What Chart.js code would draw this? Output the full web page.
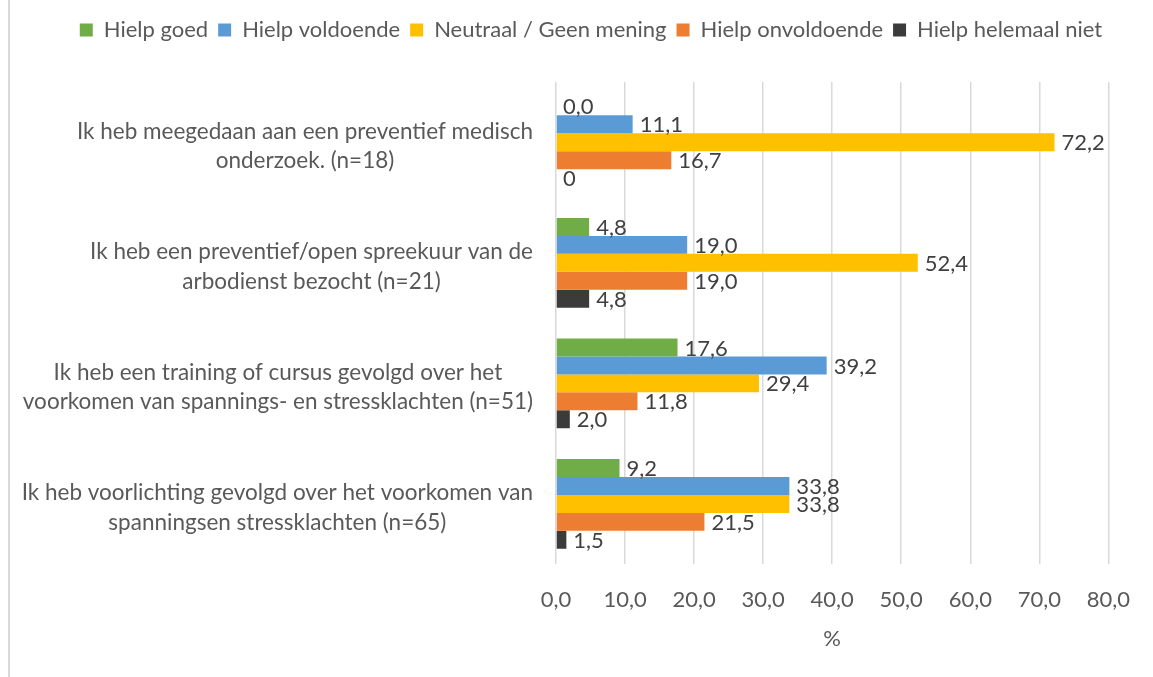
<!DOCTYPE html>
<html>
<head>
<meta charset="utf-8">
<script src="https://cdn.jsdelivr.net/npm/chart.js@4"></script>
<style>
    html, body { margin: 0; padding: 0; background: #fff; }
    #wrap { position: relative; width: 1153px; height: 677px; }
    #wrap::before { content: ''; position: absolute; left: 8px; top: 0; bottom: 0; border-left: 2px solid #d9d9d9; }
    canvas { display: block; }
</style>
</head>
<body>
<div id="wrap"><canvas id="chart" width="1153" height="677"></canvas></div>
<script>
const categorieen = [
    ['Ik heb meegedaan aan een preventief medisch', 'onderzoek. (n=18)'],
    ['Ik heb een preventief/open spreekuur van de', 'arbodienst bezocht (n=21)'],
    ['Ik heb een training of cursus gevolgd over het', 'voorkomen van spannings- en stressklachten (n=51)'],
    ['Ik heb voorlichting gevolgd over het voorkomen van', 'spanningsen stressklachten (n=65)']
];
const reeksNamen = ['Hielp goed', 'Hielp voldoende', 'Neutraal / Geen mening', 'Hielp onvoldoende', 'Hielp helemaal niet'];
const hielpGoed = [0.0, 4.8, 17.6, 9.2];
const hielpVoldoende = [11.1, 19.0, 39.2, 33.8];
const neutraal = [72.2, 52.4, 29.4, 33.8];
const hielpOnvoldoende = [16.7, 19.0, 11.8, 21.5];
const hielpNiet = [0, 4.8, 2.0, 1.5];
// Excel toonde bij de eerste groep "0" in plaats van "0,0"
const labelsNiet = ['0', '4,8', '2,0', '1,5'];
const xTicks = [0, 10, 20, 30, 40, 50, 60, 70, 80];

const kleuren = ['#70ad47', '#5b9bd5', '#ffc000', '#ed7d31', '#3b3b3b'];
const FONT = 'Lato, "Open Sans", sans-serif';

const fmt = v => v.toFixed(1).replace('.', ',');

const waardeLabels = {
    id: 'waardeLabels',
    afterDatasetsDraw(chart) {
        const ctx = chart.ctx;
        ctx.save();
        ctx.font = '22px ' + FONT;
        ctx.fillStyle = '#404040';
        ctx.textAlign = 'left';
        ctx.textBaseline = 'middle';
        chart.data.datasets.forEach((ds, i) => {
            chart.getDatasetMeta(i).data.forEach((el, j) => {
                const txt = ds.labelTekst ? ds.labelTekst[j] : fmt(ds.data[j]);
                ctx.fillText(txt, el.x + 7, el.y + 1);
            });
        });
        ctx.restore();
    }
};

// categorie-teksten: blok rechts uitgelijnd, regels onderling gecentreerd
const categorieLabels = {
    id: 'categorieLabels',
    afterDraw(chart) {
        const ctx = chart.ctx;
        const y = chart.scales.y;
        ctx.save();
        ctx.font = '22.5px ' + FONT;
        ctx.fillStyle = '#595959';
        ctx.textAlign = 'center';
        ctx.textBaseline = 'middle';
        const rechts = 533;
        const lh = 29.5;
        categorieen.forEach((regels, i) => {
            const breed = Math.max(...regels.map(r => ctx.measureText(r).width));
            const midX = rechts - breed / 2;
            const midY = y.getPixelForTick(i) + 4;
            regels.forEach((r, k) => {
                ctx.fillText(r, midX, midY + (k - (regels.length - 1) / 2) * lh);
            });
        });
        ctx.restore();
    }
};

// extra ruimte tussen legenda en grafiek
const legendaAfstand = {
    id: 'legendaAfstand',
    beforeInit(chart) {
        const fit = chart.legend.fit;
        chart.legend.fit = function () {
            fit.bind(chart.legend)();
            this.height += 31;
        };
    }
};

const datasets = [hielpGoed, hielpVoldoende, neutraal, hielpOnvoldoende, hielpNiet].map((d, i) => ({
    label: reeksNamen[i],
    data: d,
    backgroundColor: kleuren[i],
    borderWidth: 0,
    barPercentage: 1,
    categoryPercentage: 0.745
}));
datasets[4].labelTekst = labelsNiet;

new Chart(document.getElementById('chart'), {
    type: 'bar',
    data: { labels: categorieen, datasets: datasets },
    plugins: [legendaAfstand, waardeLabels, categorieLabels],
    options: {
        indexAxis: 'y',
        responsive: false,
        animation: false,
        layout: { padding: { left: 69, right: 40, top: 9, bottom: 25 } },
        plugins: {
            tooltip: { enabled: false },
            legend: {
                position: 'top',
                labels: {
                    boxWidth: 13,
                    boxHeight: 13,
                    padding: 10,
                    color: '#595959',
                    font: { family: FONT, size: 22 }
                }
            }
        },
        scales: {
            x: {
                min: 0,
                max: 80,
                afterBuildTicks: s => { s.ticks = xTicks.map(v => ({ value: v })); },
                grid: { color: '#d9d9d9', lineWidth: 1.5, drawTicks: false },
                border: { display: false },
                ticks: {
                    callback: v => fmt(v),
                    color: '#595959',
                    font: { family: FONT, size: 22 },
                    padding: 23
                },
                title: {
                    display: true,
                    text: '%',
                    color: '#595959',
                    font: { family: FONT, size: 22 },
                    padding: { top: -11, bottom: 0 }
                }
            },
            y: {
                grid: { display: false, drawTicks: false },
                border: { display: false },
                ticks: { display: false },
                afterFit: s => { s.width = 487; }
            }
        }
    }
});
</script>
</body>
</html>
